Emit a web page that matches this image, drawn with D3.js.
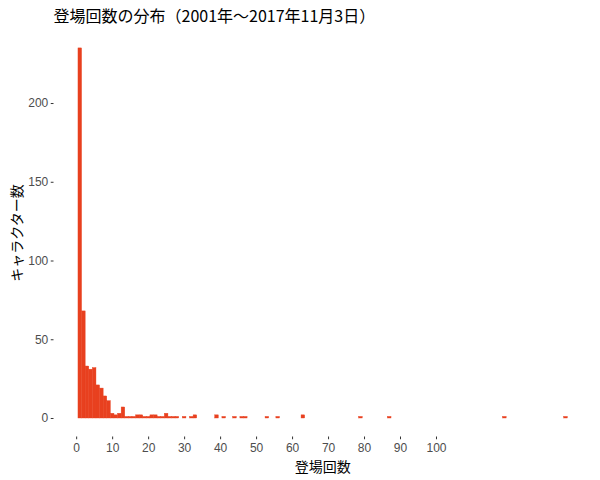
<!DOCTYPE html>
<html>
<head>
  <meta charset="utf-8">
  <title>登場回数の分布</title>
  <script src="https://d3js.org/d3.v7.min.js"></script>
  <style>
    body { margin: 0; background: #fff; }
    text { font-family: "Liberation Sans", Arial, sans-serif; }
    .jp { font-family: "Noto Sans CJK JP", sans-serif; }
  </style>
</head>
<body>
  <div id="chart"></div>
  <script type="text/javascript">

  // appearances (bin centre) and number of characters in that bin
  var appearances = [1, 2, 3, 4, 5, 6, 7, 8, 9, 10, 11, 12, 13, 14, 15, 16, 17, 18, 19, 20,
                     21, 22, 23, 24, 25, 26, 27, 28, 30, 32, 33, 39, 41, 44, 46, 47, 53, 56,
                     63, 79, 87, 119, 136];
  var characters  = [235, 68, 33, 31, 32, 21, 19, 14, 11, 3, 2, 3, 7, 1, 1, 1, 2, 2, 1, 1,
                     2, 2, 1, 1, 3, 1, 1, 1, 1, 1, 2, 2, 1, 1, 1, 1, 1, 1,
                     2, 1, 1, 1, 1];
  var xTicks = [0, 10, 20, 30, 40, 50, 60, 70, 80, 90, 100];
  var yTicks = [0, 50, 100, 150, 200];
  var binWidth = 1;

  var W = 600, H = 480;
  var pLeft = 53.5, pRight = 591.8, pTop = 29.4, pBottom = 436.5;

  var data = appearances.map(function(a, i) { return {x: a, n: characters[i]}; });

  // ggplot-style 5% expansion
  var xmin = d3.min(appearances) - binWidth / 2, xmax = d3.max(appearances) + binWidth / 2;
  var xpad = (xmax - xmin) * 0.05;
  var ymax = d3.max(characters), ypad = ymax * 0.05;

  var x = d3.scaleLinear().domain([xmin - xpad, xmax + xpad]).range([pLeft, pRight]);
  var y = d3.scaleLinear().domain([-ypad, ymax + ypad]).range([pBottom, pTop]);

  var svg = d3.select("#chart").append("svg").attr("width", W).attr("height", H);

  svg.append("g").selectAll("rect").data(data).enter().append("rect")
    .attr("x", function(d) { return x(d.x - binWidth / 2); })
    .attr("width", function(d) { return x(d.x + binWidth / 2) - x(d.x - binWidth / 2); })
    .attr("y", function(d) { return y(d.n); })
    .attr("height", function(d) { return y(0) - y(d.n); })
    .attr("fill", "#e8401f")
    .attr("stroke", "#e8401f")
    .attr("stroke-width", 0.4);

  var xAxis = svg.append("g").attr("transform", "translate(0," + pBottom + ")")
    .call(d3.axisBottom(x).tickValues(xTicks).tickSize(2.75).tickPadding(4));
  var yAxis = svg.append("g").attr("transform", "translate(" + pLeft + ",0)")
    .call(d3.axisLeft(y).tickValues(yTicks).tickSize(2.75).tickPadding(2.5));

  [xAxis, yAxis].forEach(function(g) {
    g.select(".domain").remove();
    g.selectAll(".tick line").attr("stroke", "#333");
    g.selectAll(".tick text").attr("fill", "#4d4d4d").style("font-size", "12px")
      .style("font-family", "'Liberation Sans', Arial, sans-serif");
  });

  svg.append("text").attr("class", "jp")
    .attr("x", (pLeft + pRight) / 2).attr("y", 472)
    .attr("text-anchor", "middle").style("font-size", "14px").attr("fill", "#000")
    .text("登場回数");

  svg.append("text").attr("class", "jp")
    .attr("transform", "translate(22," + (pTop + pBottom) / 2 + ") rotate(-90)")
    .attr("text-anchor", "middle").style("font-size", "14px").attr("fill", "#000")
    .text("キャラクター数");

  svg.append("text").attr("class", "jp")
    .attr("x", pLeft).attr("y", 22)
    .style("font-size", "16px").attr("fill", "#000")
    .text("登場回数の分布（2001年～2017年11月3日）");

  </script>
</body>
</html>
